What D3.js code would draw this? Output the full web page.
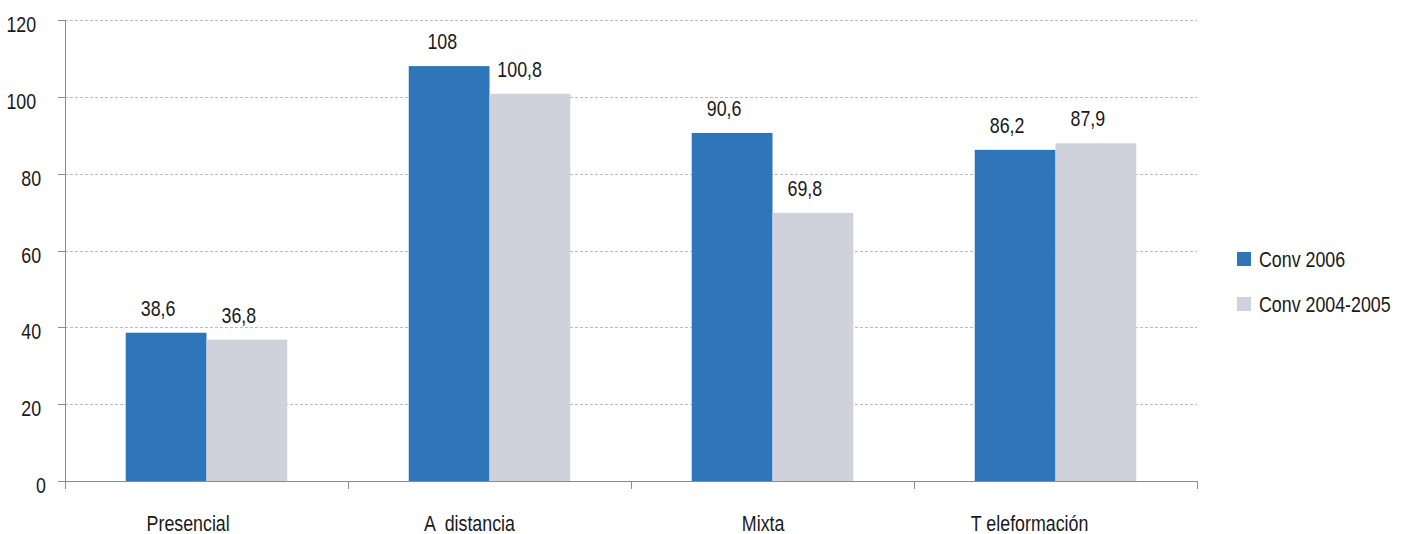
<!DOCTYPE html>
<html><head><meta charset="utf-8">
<script src="https://cdn.jsdelivr.net/npm/d3@7"></script>
<style>body{margin:0;background:#fff}text{font-family:"Liberation Sans",Arial,sans-serif;fill:#1a1a1a;white-space:pre}</style>
</head><body><svg id="c" width="1408" height="534"></svg>
<script>
const categories = ["Presencial", "A  distancia", "Mixta", "T eleformación"];
const seriesNames = ["Conv 2006", "Conv 2004-2005"];
const conv2006 = [38.6, 108, 90.6, 86.2];
const conv20042005 = [36.8, 100.8, 69.8, 87.9];
const valueLabels2006 = ["38,6", "108", "90,6", "86,2"];
const valueLabels0405 = ["36,8", "100,8", "69,8", "87,9"];
const yTicks = [0, 20, 40, 60, 80, 100, 120];
const colors = ["#2e75b9", "#cfd2da"];

const svg = d3.select("#c");
const mLeft = 65, mRight = 1197, mTop = 20, mBottom = 481;
const SX = 0.81, FS = "22px";
const y = d3.scaleLinear().domain([0, 120]).range([mBottom, mTop]);
const x0 = d3.scaleBand().domain(categories).range([mLeft, mRight]).padding(0);
const x1 = d3.scaleBand().domain(seriesNames).range([0, x0.bandwidth()]).paddingInner(0).paddingOuter(0.752);
const series = [conv2006, conv20042005];
const labels = [valueLabels2006, valueLabels0405];

// condensed text helper: xFn(w) gives left start given visible width
function ctext(parent, str, yPos, xFn) {
  const g = parent.append("g");
  const t = g.append("text").attr("x", 0).attr("y", 0).style("font-size", FS).text(str);
  const w = t.node().getComputedTextLength() * SX;
  g.attr("transform", `translate(${xFn(w)},${yPos}) scale(${SX},1)`);
  return g;
}

// grid
svg.append("g").selectAll("line").data(yTicks.filter(d => d > 0)).join("line")
  .attr("x1", mLeft).attr("x2", mRight)
  .attr("y1", d => Math.round(y(d)) + 0.5).attr("y2", d => Math.round(y(d)) + 0.5)
  .attr("stroke", "#bdbdbd").attr("stroke-dasharray", "3,2");

// bars
series.forEach((vals, si) => {
  svg.append("g").selectAll("rect").data(categories).join("rect")
    .attr("x", c => x0(c) + x1(seriesNames[si]))
    .attr("width", x1.bandwidth())
    .attr("y", (c, i) => y(vals[i]))
    .attr("height", (c, i) => mBottom - y(vals[i]))
    .attr("fill", colors[si]);
});

// y axis
const yAxis = svg.append("g");
yAxis.append("line").attr("x1", mLeft + 0.5).attr("x2", mLeft + 0.5).attr("y1", mTop).attr("y2", mBottom).attr("stroke", "#8c8c8c");
yAxis.selectAll(".tk").data(yTicks).join("line").attr("class", "tk")
  .attr("x1", mLeft - 7).attr("x2", mLeft)
  .attr("y1", d => Math.round(y(d)) + 0.5).attr("y2", d => Math.round(y(d)) + 0.5)
  .attr("stroke", "#8c8c8c");
yTicks.forEach(d => ctext(yAxis, String(d), y(d) + 12, w => 51 - 1.5 * w));

// x axis
const xAxis = svg.append("g");
xAxis.append("line").attr("x1", mLeft).attr("x2", mRight).attr("y1", mBottom + 0.5).attr("y2", mBottom + 0.5).attr("stroke", "#8c8c8c");
xAxis.selectAll(".tk").data(d3.range(categories.length + 1)).join("line").attr("class", "tk")
  .attr("x1", i => Math.round(mLeft + i * x0.step()) + 0.5).attr("x2", i => Math.round(mLeft + i * x0.step()) + 0.5)
  .attr("y1", mBottom).attr("y2", mBottom + 8).attr("stroke", "#8c8c8c");
categories.forEach(c => ctext(xAxis, c, 531, w => x0(c) + x0.bandwidth() / 2 - 0.72 * w));

// value labels
const vl = svg.append("g");
series.forEach((vals, si) => {
  categories.forEach((c, i) => {
    ctext(vl, labels[si][i], y(vals[i]) - 17,
      w => x0(c) + x1(seriesNames[si]) + x1.bandwidth() / 2 - 0.73 * w);
  });
});

// legend
const lg = svg.append("g").attr("transform", "translate(1237,252)");
seriesNames.forEach((s, i) => {
  lg.append("rect").attr("x", 0).attr("y", i * 45).attr("width", 14).attr("height", 14).attr("fill", colors[i]);
  ctext(lg, s, i * 45 + 15, w => 22);
});
</script></body></html>
